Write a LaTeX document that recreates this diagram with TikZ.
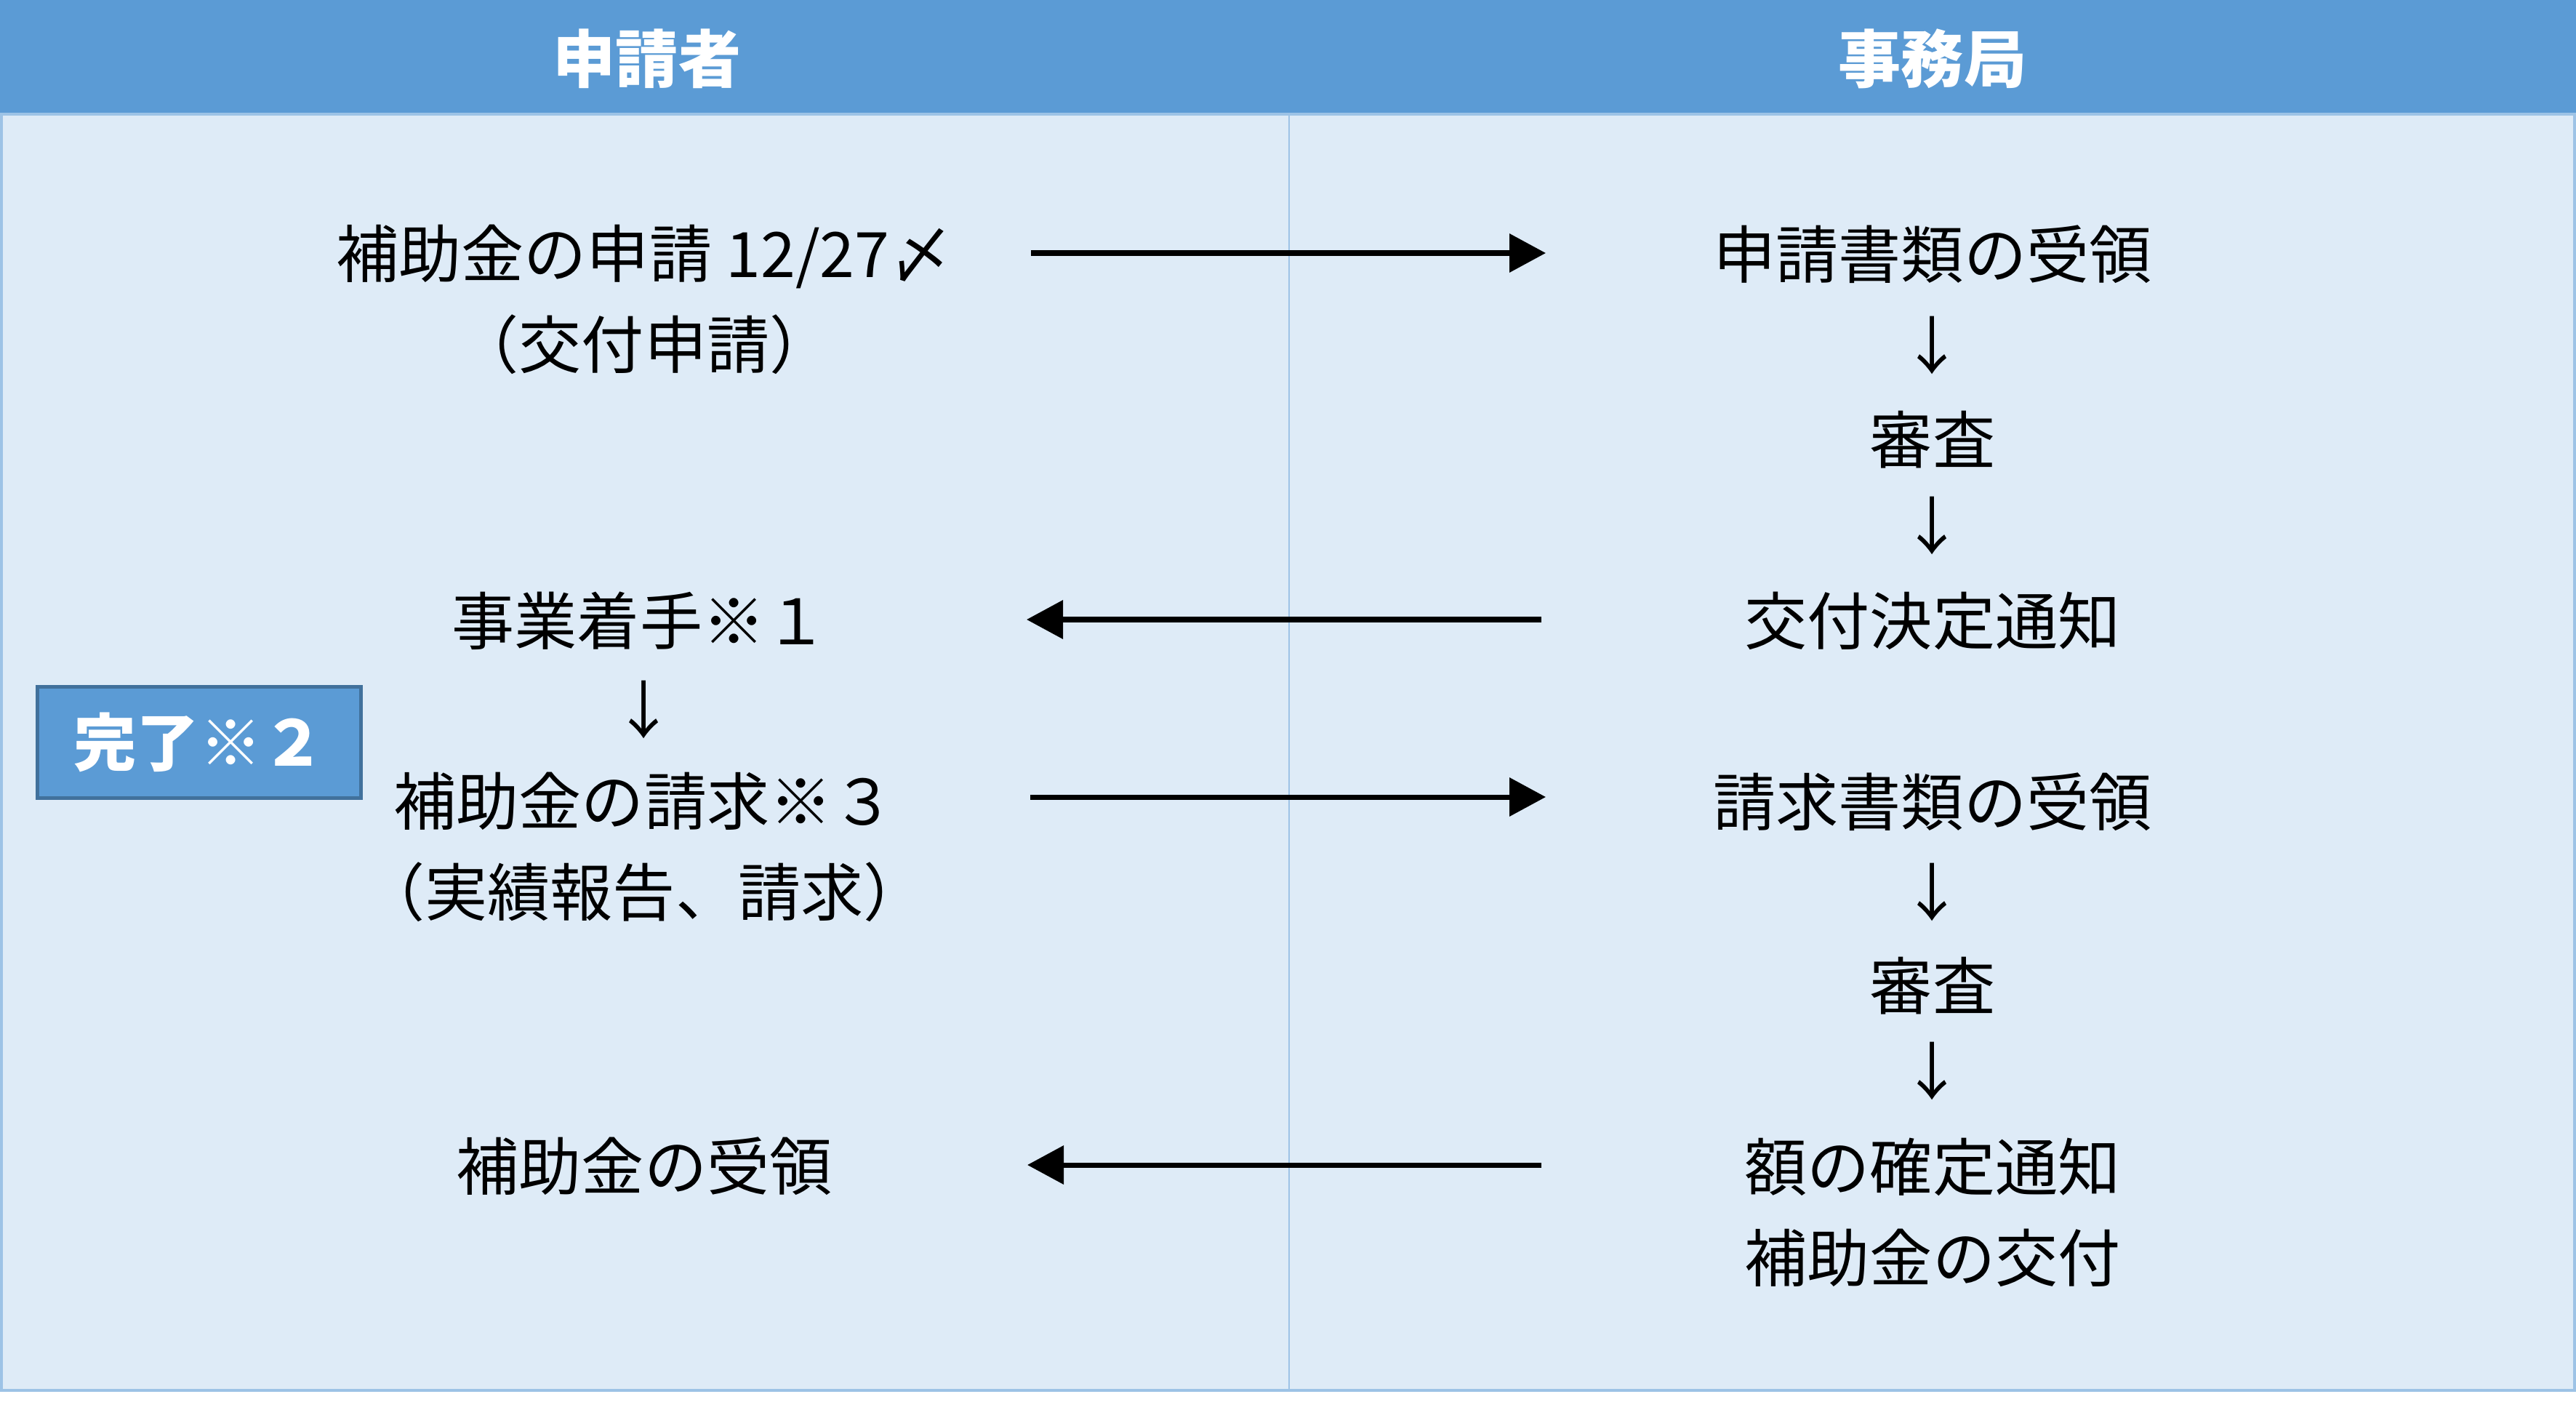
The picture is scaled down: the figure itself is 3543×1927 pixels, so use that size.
\documentclass[tikz,border=0pt]{standalone}
\usepackage{fontspec}
\setmainfont{Noto Sans CJK JP}
\usetikzlibrary{arrows.meta}
\definecolor{headblue}{RGB}{91,155,213}
\definecolor{paleblue}{RGB}{222,235,247}
\definecolor{lineblue}{RGB}{157,195,230}
\definecolor{boxedge}{RGB}{65,113,156}

\begin{document}
\begin{tikzpicture}[x=0.01cm,y=-0.01cm,
  txt/.style={font=\fontsize{24.5pt}{35.5pt}\selectfont,inner sep=0pt,align=center},
  flow/.style={line width=2pt,-{Triangle[length=0.5cm,width=0.52cm]}}]
  \useasboundingbox (0,0) rectangle (3543,1927);
  % frame: header band and two columns
  \fill[paleblue] (0,157) rectangle (3543,1912);
  \fill[headblue] (0,0) rectangle (3543,157);
  \draw[lineblue,line width=1.2pt] (2,157) rectangle (3541,1912);
  \draw[lineblue,line width=0.8pt] (1773,157) -- (1773,1912);
  \node[txt,text=white,font=\fontsize{24.5pt}{30pt}\selectfont\bfseries] (hdapp) at (890,81) {申請者};
  \node[txt,text=white,font=\fontsize{24.5pt}{30pt}\selectfont\bfseries] (hdoff) at (2658,81) {事務局};

  % left: applicant
  \node[txt] (apply) at (886,412) {補助金の申請 12/27〆\\（交付申請）};
  \node[txt] (start) at (880,854) {事業着手※１};
  \node[txt] (dstart) at (886,976) {↓};
  \node[txt] (claim) at (886,1165) {補助金の請求※３\\（実績報告、請求）};
  \node[txt] (recv) at (886,1604) {補助金の受領};
  \node[txt,text=white,fill=headblue,draw=boxedge,line width=1.4pt,
        font=\fontsize{24.5pt}{30pt}\selectfont\bfseries,
        minimum width=4.45cm,minimum height=1.53cm] (done) at (274,1021) {完了※２};

  % right: office
  \node[txt] (getapp) at (2658,350) {申請書類の受領};
  \node[txt] (chk1) at (2658,605) {審査};
  \node[txt] (grant) at (2658,854) {交付決定通知};
  \node[txt] (getclm) at (2658,1103) {請求書類の受領};
  \node[txt] (chk2) at (2658,1356) {審査};
  \node[txt] (fix) at (2658,1667) {額の確定通知\\補助金の交付};
  \foreach \y/\n in {475/a,723/b,1227/c,1473/d}
    \node[txt] (down\n) at (2658,\y) {↓};

  % arrows between the columns
  \coordinate (s1) at (1418,348);  \coordinate (e1) at (2126,348);
  \coordinate (s2) at (2120,852);  \coordinate (e2) at (1412,852);
  \coordinate (s3) at (1417,1096); \coordinate (e3) at (2126,1096);
  \coordinate (s4) at (2120,1602); \coordinate (e4) at (1413,1602);
  \foreach \i in {1,2,3,4} \draw[flow] (s\i) -- (e\i);
\end{tikzpicture}
\end{document}
